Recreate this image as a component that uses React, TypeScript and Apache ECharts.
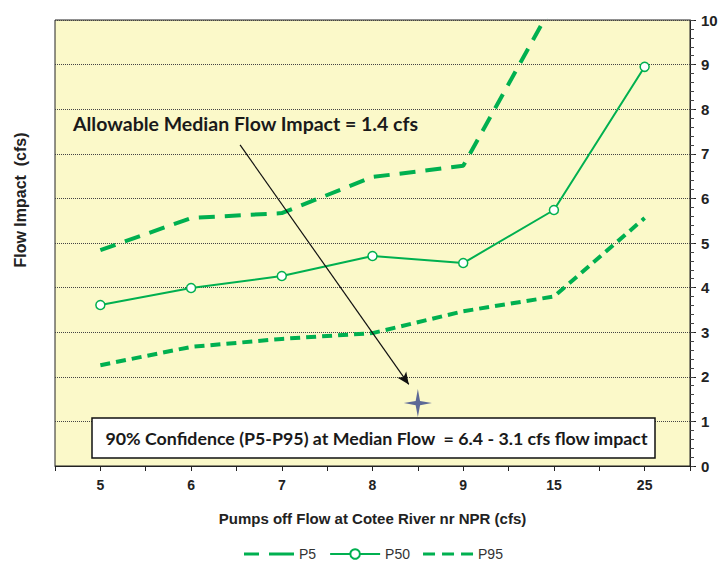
import React, { useEffect, useRef } from "react";
import * as echarts from "echarts";

const categories = ["5", "6", "7", "8", "9", "15", "25"];
const p5 = [4.84, 5.56, 5.67, 6.48, 6.73, 10.4, 14.0];
const p50 = [3.61, 3.99, 4.26, 4.71, 4.55, 5.74, 8.95];
const p95 = [2.26, 2.67, 2.85, 2.98, 3.47, 3.8, 5.56];
const yTicks = { min: 0, max: 10, interval: 1, minorInterval: 0.2 };
// star: median flow impact point, on a hidden 0..7 position axis (between 8 and 9)
const starPoint = [4.0, 1.41];
const arrowFrom = [2.04, 7.2];
const arrowTo = [3.9, 1.83];

const GREEN = "#00B050";
const AXISFONT = "'Liberation Sans', Arial, sans-serif";
const NOTEFONT = "Lato, 'Open Sans', sans-serif";

const P5_ICON = "path://M0,0 L0.01,0 Z M50,12 L49.99,12 Z M0,4.5 L15,4.5 L15,7.5 L0,7.5 Z M25,4.5 L50,4.5 L50,7.5 L25,7.5 Z";
const P95_ICON = "path://M0,0 L0.01,0 Z M50,12 L49.99,12 Z M0,4.5 L12,4.5 L12,7.5 L0,7.5 Z M19,4.5 L31,4.5 L31,7.5 L19,7.5 Z M38,4.5 L50,4.5 L50,7.5 L38,7.5 Z";

export default function App() {
  const ref = useRef<HTMLDivElement>(null);
  useEffect(() => {
    if (!ref.current) return;
    const chart = echarts.init(ref.current, null, { renderer: "svg" });
    chart.setOption({
      animation: false,
      backgroundColor: "#ffffff",
      grid: {
        left: 55,
        right: 35,
        top: 20,
        bottom: 96,
        show: true,
        outerBoundsMode: "none",
        containLabel: false,
        backgroundColor: "#FBF9C9",
        borderColor: "#222",
        borderWidth: 1,
      },
      legend: {
        left: 239,
        top: 542,
        itemWidth: 50,
        itemHeight: 12,
        itemGap: 13,
        data: [
          { name: "P5", icon: P5_ICON },
          { name: "P50" },
          { name: "P95", icon: P95_ICON },
        ],
        textStyle: { fontFamily: AXISFONT, fontSize: 14, color: "#333" },
      },
      xAxis: [
        {
          type: "category",
          data: categories,
          boundaryGap: true,
          position: "bottom",
          name: "Pumps off Flow at Cotee River nr NPR (cfs)",
          nameLocation: "middle",
          nameGap: 45,
          nameTextStyle: { fontFamily: AXISFONT, fontSize: 15, fontWeight: "bold", color: "#222" },
          axisLine: { show: true, onZero: false, lineStyle: { color: "#222", width: 1 } },
          axisTick: { show: false },
          axisLabel: { fontFamily: AXISFONT, fontSize: 14, fontWeight: "bold", color: "#222", margin: 12 },
          splitLine: { show: false },
        },
        {
          type: "value",
          min: 0,
          max: 7,
          interval: 0.5,
          position: "bottom",
          axisLine: { show: false, onZero: false },
          axisTick: { show: true, length: 5, lineStyle: { color: "#222" } },
          axisLabel: { show: false },
          splitLine: { show: false },
        },
      ],
      yAxis: [
        {
          type: "value",
          position: "right",
          min: yTicks.min,
          max: yTicks.max,
          interval: yTicks.interval,
          axisLine: { show: true, onZero: false, lineStyle: { color: "#222", width: 1 } },
          axisTick: { show: true, inside: false, length: 6, lineStyle: { color: "#222" } },
          minorTick: { show: false },
          axisLabel: { fontFamily: AXISFONT, fontSize: 15, fontWeight: "bold", color: "#222", margin: 11 },
          splitLine: { show: true, lineStyle: { color: "#444", type: "dotted", width: 1 } },
        },
        {
          type: "value",
          position: "right",
          min: yTicks.min,
          max: yTicks.max,
          interval: yTicks.minorInterval,
          axisLine: { show: false, onZero: false },
          axisTick: { show: true, inside: false, length: 4, lineStyle: { color: "#444" } },
          axisLabel: { show: false },
          splitLine: { show: false },
        },
      ],
      series: [
        {
          name: "P5",
          type: "line",
          data: p5,
          symbol: "none",
          clip: true,
          lineStyle: { color: GREEN, width: 4, type: [16, 10] },
          itemStyle: { color: GREEN },
        },
        {
          name: "P50",
          type: "line",
          data: p50,
          symbol: "circle",
          symbolSize: 9,
          lineStyle: { color: GREEN, width: 2 },
          itemStyle: { color: "#ffffff", borderColor: GREEN, borderWidth: 1.5 },
        },
        {
          name: "P95",
          type: "line",
          data: p95,
          symbol: "none",
          lineStyle: { color: GREEN, width: 4, type: [10, 6] },
          itemStyle: { color: GREEN },
        },
        {
          name: "Median",
          type: "scatter",
          xAxisIndex: 1,
          yAxisIndex: 0,
          data: [starPoint],
          symbol: "path://M0,-14 L2.2,-2.2 L14,0 L2.2,2.2 L0,14 L-2.2,2.2 L-14,0 L-2.2,-2.2 Z",
          symbolSize: [28, 28],
          itemStyle: { color: "#34458A" },
          z: 5,
          markLine: {
            silent: true,
            symbol: ["none", "arrow"],
            symbolSize: [8, 12],
            label: { show: false },
            lineStyle: { color: "#111", width: 1.2, type: "solid" },
            data: [[{ coord: arrowFrom }, { coord: arrowTo }]],
          },
        },
      ],
      graphic: [
        {
          type: "text",
          x: 20,
          y: 200,
          rotation: Math.PI / 2,
          style: {
            text: "Flow Impact  (cfs)",
            fontFamily: AXISFONT,
            fontSize: 16,
            fontWeight: "bold",
            fill: "#222",
            align: "center",
            verticalAlign: "middle",
          },
        },
        {
          type: "text",
          x: 73,
          y: 123,
          style: {
            text: "Allowable Median Flow Impact = 1.4 cfs",
            fontFamily: NOTEFONT,
            fontSize: 19.5,
            fontWeight: "bold",
            fill: "#1a1a1a",
            verticalAlign: "middle",
          },
          z: 10,
        },
        {
          type: "rect",
          shape: { x: 92, y: 418, width: 563, height: 40 },
          style: { fill: "#ffffff", stroke: "#111", lineWidth: 1.5 },
          z: 4,
        },
        {
          type: "text",
          x: 376.5,
          y: 438,
          style: {
            text: "90% Confidence (P5-P95) at Median Flow  = 6.4 - 3.1 cfs flow impact",
            fontFamily: NOTEFONT,
            fontSize: 17.8,
            fontWeight: "bold",
            fill: "#1a1a1a",
            align: "center",
            verticalAlign: "middle",
          },
          z: 10,
        },
      ],
    });
    return () => chart.dispose();
  }, []);
  return (
    <div
      ref={ref}
      style={{ position: "fixed", left: 0, top: 0, width: 725, height: 562 }}
    />
  );
}
